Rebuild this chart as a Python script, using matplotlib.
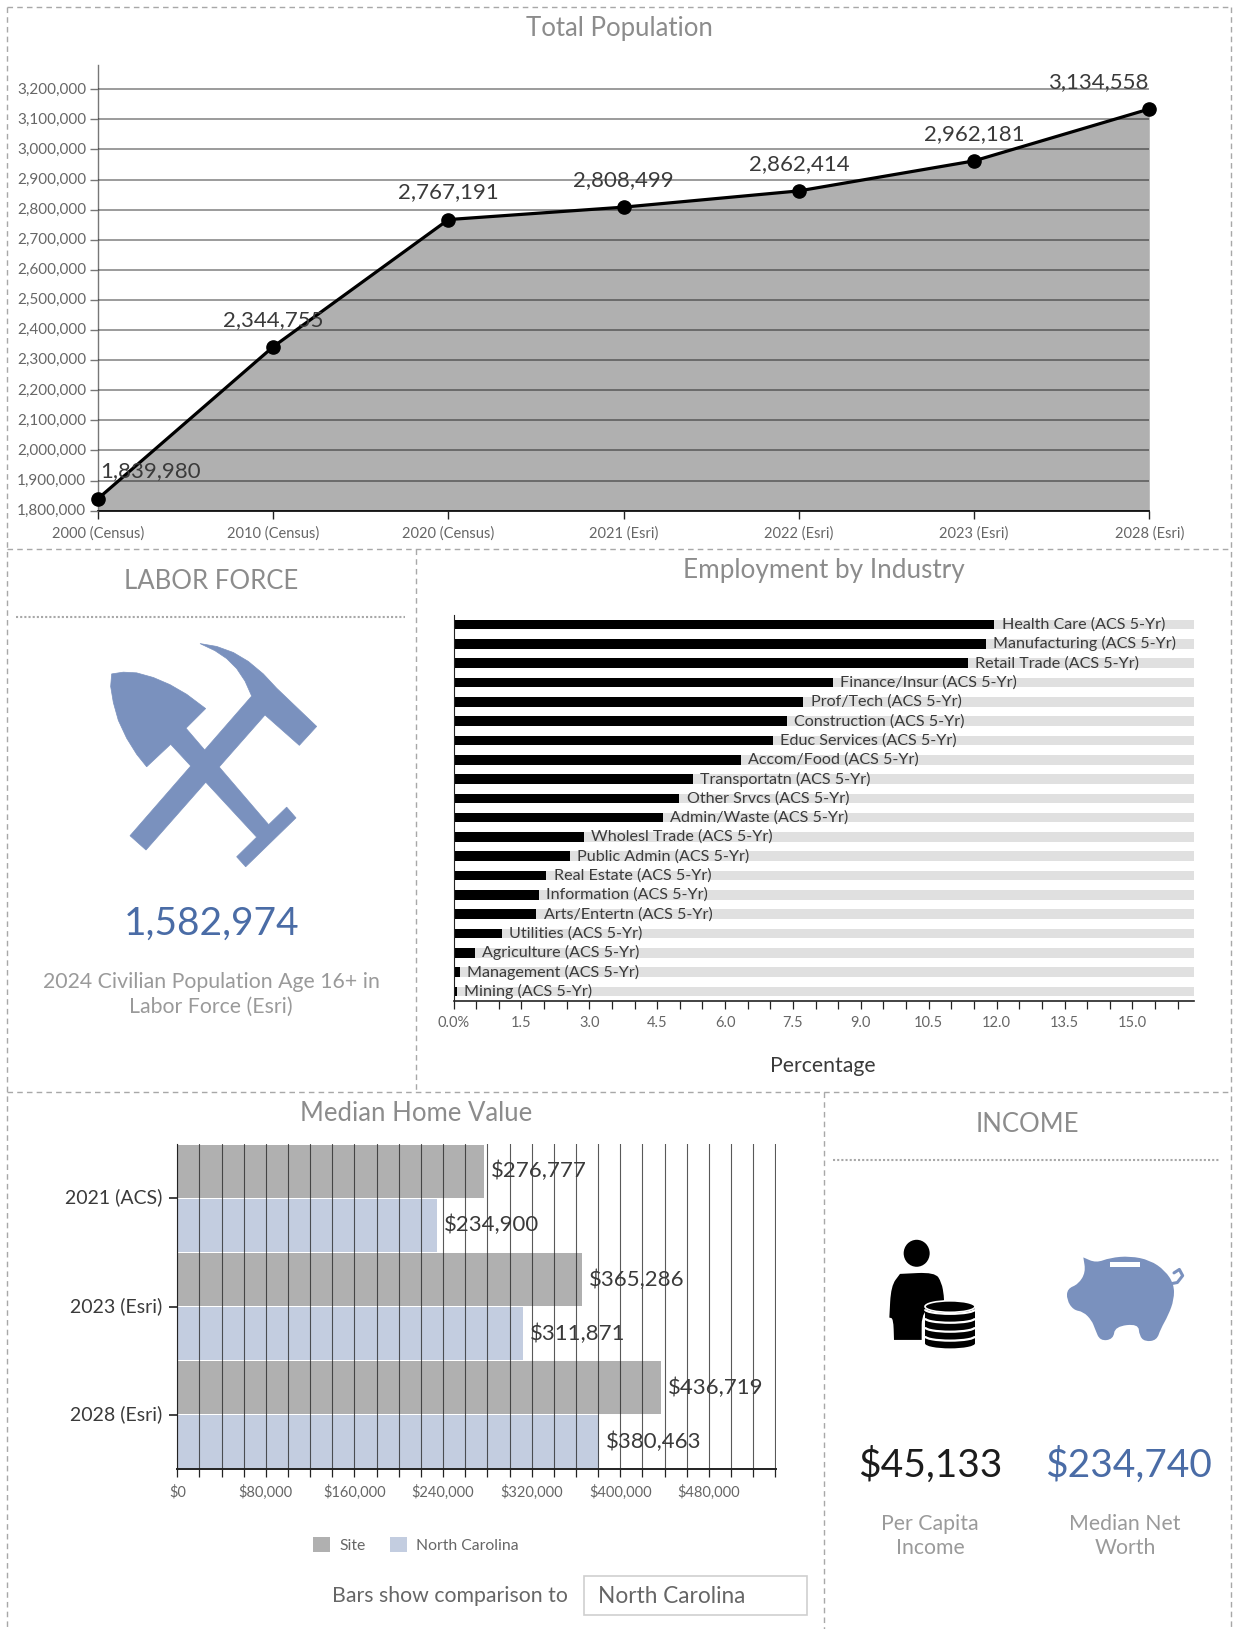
import matplotlib
matplotlib.use("Agg")
import matplotlib.pyplot as plt
import numpy as np
from matplotlib.patches import Arc, Ellipse, PathPatch, Polygon, Rectangle
from matplotlib.path import Path
from matplotlib.ticker import FuncFormatter, MultipleLocator
from matplotlib.transforms import ScaledTranslation

# =============================
# Data
# =============================
POP_YEARS = ["2000 (Census)", "2010 (Census)", "2020 (Census)", "2021 (Esri)",
             "2022 (Esri)", "2023 (Esri)", "2028 (Esri)"]
POP_VALUES = [1839980, 2344755, 2767191, 2808499, 2862414, 2962181, 3134558]

INDUSTRIES = ["Health Care", "Manufacturing", "Retail Trade", "Finance/Insur", "Prof/Tech",
              "Construction", "Educ Services", "Accom/Food", "Transportatn", "Other Srvcs",
              "Admin/Waste", "Wholesl Trade", "Public Admin", "Real Estate", "Information",
              "Arts/Entertn", "Utilities", "Agriculture", "Management", "Mining"]
INDUSTRY_PCT = [11.95, 11.77, 11.36, 8.39, 7.73, 7.36, 7.06, 6.35, 5.29, 4.99,
                4.62, 2.88, 2.57, 2.05, 1.89, 1.83, 1.07, 0.47, 0.14, 0.07]

HOME_YEARS = ["2021 (ACS)", "2023 (Esri)", "2028 (Esri)"]
HOME_SITE = [276777, 365286, 436719]
HOME_NC = [234900, 311871, 380463]

# =============================
# Style
# =============================
W, H = 1233, 1629
FONT = "Lato"
GRAY_TITLE = "#8c8c8c"
GRAY_TICK = "#666666"
GRAY_CAPTION = "#9a9a9a"
TEXT_DARK = "#3a3a3a"
BLUE_ICON = "#7a91be"
BLUE_TEXT = "#4a6ca6"
FILL_GRAY = "#b0b0b0"
NC_BLUE = "#c3cde0"

plt.rcParams["font.family"] = [FONT, "DejaVu Sans"]

fig = plt.figure(figsize=(W / 100, H / 100), dpi=100, facecolor="white")


def axes_px(left, top, right, bottom):
    return fig.add_axes([left / W, 1 - bottom / H, (right - left) / W, (bottom - top) / H])


# background layer, in pixel coordinates, for frames, headings and icons
bg = fig.add_axes([0, 0, 1, 1])
bg.set_xlim(0, W)
bg.set_ylim(H, 0)
bg.axis("off")

dash = dict(color="#a8a8a8", lw=1.0, dashes=(4, 3))
for xs, ys in [((7, 1231), (7, 7)), ((7, 7), (7, 1629)), ((1231, 1231), (7, 1629)),
               ((7, 1231), (549, 549)), ((7, 1231), (1092, 1092)),
               ((416, 416), (549, 1092)), ((824, 824), (1092, 1629))]:
    bg.plot(xs, ys, **dash)

dots = dict(color="#a8a8a8", lw=1.5, dashes=(1, 1))
bg.plot((16, 405), (617, 617), **dots)
bg.plot((833, 1220), (1160, 1160), **dots)


def label(x, y, s, size, color=GRAY_TITLE, ha="center"):
    bg.text(x, y + 1.5, s, fontsize=size, color=color, ha=ha, va="center")


label(619, 27, "Total Population", 18.5, GRAY_TITLE)
label(211, 580, "LABOR FORCE", 18.5, GRAY_TITLE)
label(824, 569, "Employment by Industry", 18.8, GRAY_TITLE)
label(416, 1112, "Median Home Value", 18.5, GRAY_TITLE)
label(1027, 1123, "INCOME", 18.5, GRAY_TITLE)

label(212, 922, "1,582,974", 28, BLUE_TEXT)
label(211, 980, "2024 Civilian Population Age 16+ in", 15.3, GRAY_CAPTION)
label(211, 1005, "Labor Force (Esri)", 15.3, GRAY_CAPTION)

label(930, 1464, "$45,133", 28, "#1c1c1c")
label(1129, 1464, "$234,740", 28, BLUE_TEXT)
label(930, 1522, "Per Capita", 15.3, GRAY_CAPTION)
label(930, 1547, "Income", 15.3, GRAY_CAPTION)
label(1125, 1522, "Median Net", 15.3, GRAY_CAPTION)
label(1125, 1547, "Worth", 15.3, GRAY_CAPTION)

label(450, 1595, "Bars show comparison to", 15.3, GRAY_TICK)
bg.add_patch(Rectangle((584, 1576), 223, 39, fc="white", ec="#cfcfcf", lw=1.2))
label(598, 1595, "North Carolina", 16.3, GRAY_TICK, ha="left")


# =============================
# Icons
# =============================
def smooth_patch(points, **kw):
    # quadratic curve through the midpoints, repeat a point to keep a corner
    pts = np.array(points, dtype=float)
    mids = (pts + np.roll(pts, -1, axis=0)) / 2
    verts = [mids[-1]]
    codes = [Path.MOVETO]
    for p, m in zip(pts, mids):
        verts += [p, m]
        codes += [Path.CURVE3, Path.CURVE3]
    return PathPatch(Path(verts, codes), **kw)


def z3(points):
    return [(x / 3, 540 + y / 2.8) for x, y in points]


def z6(points):
    return [(820 + x / 3, 1090 + y / 2.909) for x, y in points]


shovel = [(335, 375), (370, 370), (410, 372), (460, 385), (510, 405), (560, 432), (617, 472),
          (558, 527), (806, 797), (860, 748), (888, 778), (737, 915), (710, 887), (770, 832),
          (512, 572), (440, 635), (410, 600), (380, 555), (355, 505), (340, 455), (332, 410)]
pick = [(600, 290), (650, 298), (700, 315), (745, 340), (790, 375), (830, 415), (950, 522),
        (898, 575), (795, 490), (438, 868), (390, 828), (755, 437), (735, 395), (710, 360),
        (680, 332), (645, 310)]
bg.add_patch(Polygon(z3(shovel), fc=BLUE_ICON, ec=BLUE_ICON, lw=0.5))
bg.add_patch(Polygon(z3(pick), fc=BLUE_ICON, ec=BLUE_ICON, lw=0.5))

# person with coins
bg.add_patch(Ellipse(z6([(290, 475)])[0], 26, 27, fc="black"))
body = [(240, 535), (240, 535), (345, 530), (365, 560), (372, 600), (372, 620), (305, 640), (305, 727),
        (305, 727), (222, 727), (222, 727), (220, 665), (208, 662), (208, 662), (213, 570)]
bg.add_patch(smooth_patch(z6(body), fc="black", ec="none"))
(cx, c_top), (_, c_bot) = z6([(390, 630), (390, 740)])
bg.add_patch(Rectangle((cx - 25, c_top - 1), 50, c_bot - c_top, fc="black", ec="white", lw=0))
bg.add_patch(Ellipse((cx, c_top), 50, 11.5, fc="black", ec="white", lw=1.2))
bg.add_patch(Ellipse((cx, c_bot - 1), 50, 10, fc="black", ec="none"))
for cy in [638, 664, 690, 716]:
    _, py = z6([(390, cy)])[0]
    bg.add_patch(Arc((cx, py), 50, 9, theta1=0, theta2=180, color="white", lw=1.6))

# piggy bank
pig = [(790, 487), (790, 487), (828, 503), (870, 488), (930, 483), (990, 495), (1035, 525), (1062, 565),
       (1062, 610), (1045, 655), (1022, 695), (1010, 728), (975, 732), (958, 715), (955, 680),
       (885, 688), (880, 725), (840, 730), (825, 695), (815, 670), (790, 645), (760, 640),
       (740, 610), (742, 578), (775, 565), (797, 530)]
bg.add_patch(smooth_patch(z6(pig), fc=BLUE_ICON, ec="none"))
tail = z6([(1045, 565), (1072, 560), (1088, 540), (1078, 522), (1062, 532)])
bg.plot(*zip(*tail), color=BLUE_ICON, lw=2.2, solid_capstyle="round")
sx, sy = z6([(870, 500)])[0]
bg.add_patch(Rectangle((sx, sy), 30, 5, fc="white", ec="none"))

# =============================
# Total population
# =============================
ax = axes_px(98, 65, 1149.3, 510.7)
ax.patch.set_visible(False)
xpos = np.arange(len(POP_YEARS))
ax.fill_between(xpos, POP_VALUES, 1800000, color=FILL_GRAY, lw=0, zorder=1)
ax.plot(xpos, POP_VALUES, color="black", lw=2.3, marker="o", ms=9.5, clip_on=False, zorder=4)
ax.set_xlim(0, 6)
ax.set_ylim(1800000, 3280700)
ax.set_yticks(np.arange(1800000, 3200001, 100000))
ax.yaxis.set_major_formatter(FuncFormatter(lambda v, _: f"{int(v):,}"))
ax.set_xticks(xpos, POP_YEARS)
ax.grid(axis="y", color="black", alpha=0.5, lw=1.1, zorder=2)
ax.set_axisbelow(False)
for s in ("top", "right"):
    ax.spines[s].set_visible(False)
ax.spines["left"].set_color("#777777")
ax.spines["left"].set_linewidth(1.0)
ax.spines["bottom"].set_color("#222222")
ax.spines["bottom"].set_linewidth(1.4)
ax.tick_params(axis="y", length=5.5, width=1.0, color="#777777", labelcolor=GRAY_TICK, labelsize=11, pad=3)
ax.tick_params(axis="x", length=6, width=1.0, color="#222222", labelcolor=GRAY_TICK, labelsize=10.5, pad=5)
shift = ScaledTranslation(0, 1 / 72, fig.dpi_scale_trans)
for t in ax.get_yticklabels():
    t.set_transform(t.get_transform() + shift)
offsets = [38, 0, 0, 0, 0, 0, -37]
for x, v, dx in zip(xpos, POP_VALUES, offsets):
    ax.annotate(f"{v:,}", (x, v), xytext=(dx, 19.5), textcoords="offset points", ha="center",
                va="center", fontsize=16, color=TEXT_DARK, zorder=5, annotation_clip=False)

# =============================
# Employment by industry
# =============================
ax = axes_px(453.5, 615, 1193.5, 1001)
ax.patch.set_visible(False)
ypos = np.arange(len(INDUSTRIES))
XMAX = 16.35
ax.barh(ypos, [XMAX] * len(ypos), height=0.5, color="#e0e0e0", zorder=1)
ax.barh(ypos, INDUSTRY_PCT, height=0.5, color="black", zorder=2)
for y, v, name in zip(ypos, INDUSTRY_PCT, INDUSTRIES):
    ax.annotate(f"{name} (ACS 5-Yr)", (v, y), xytext=(5.2, 0), textcoords="offset points",
                va="center", fontsize=11.6, color=TEXT_DARK, zorder=3)
ax.set_xlim(0, XMAX)
ax.set_ylim(len(ypos) - 0.5, -0.5)
ax.set_yticks([])
ax.xaxis.set_major_locator(MultipleLocator(1.5))
ax.xaxis.set_minor_locator(MultipleLocator(0.5))
ax.xaxis.set_major_formatter(FuncFormatter(lambda v, _: "0.0%" if v == 0 else f"{v:.1f}"))
for s in ("top", "right"):
    ax.spines[s].set_visible(False)
ax.spines["left"].set_color("#222222")
ax.spines["bottom"].set_color("#222222")
ax.spines["bottom"].set_linewidth(1.2)
ax.tick_params(axis="x", which="both", length=6, width=0.9, color="#222222")
ax.tick_params(axis="x", labelsize=10.5, labelcolor=GRAY_TICK, pad=5)
label(823, 1064, "Percentage", 15.3, TEXT_DARK)

# =============================
# Median home value
# =============================
ax = axes_px(177.3, 1144, 775.6, 1469)
ax.patch.set_visible(False)
ypos = np.arange(len(HOME_YEARS))
ax.barh(ypos - 0.25, HOME_SITE, height=0.49, color=FILL_GRAY, label="Site", zorder=1)
ax.barh(ypos + 0.25, HOME_NC, height=0.49, color=NC_BLUE, label="North Carolina", zorder=1)
for y, site, nc in zip(ypos, HOME_SITE, HOME_NC):
    for off, v in ((-0.25, site), (0.25, nc)):
        ax.annotate(f"${v:,}", (v, y + off), xytext=(5, 0), textcoords="offset points",
                    va="center", fontsize=16, color=TEXT_DARK, zorder=4)
ax.set_xlim(0, 540300)
ax.set_ylim(2.5, -0.5)
ax.set_yticks(ypos, HOME_YEARS)
ax.xaxis.set_major_locator(MultipleLocator(80000))
ax.xaxis.set_minor_locator(MultipleLocator(20000))
ax.xaxis.set_major_formatter(FuncFormatter(lambda v, _: f"${int(v):,}"))
ax.grid(axis="x", which="both", color="#222222", alpha=0.75, lw=0.8, zorder=2)
ax.set_axisbelow(False)
for s in ("top", "right"):
    ax.spines[s].set_visible(False)
ax.spines["left"].set_color("#222222")
ax.spines["bottom"].set_color("#222222")
ax.spines["bottom"].set_linewidth(1.4)
ax.tick_params(axis="x", which="both", length=5.5, width=0.9, color="#222222")
ax.tick_params(axis="x", labelsize=10.5, labelcolor=GRAY_TICK, pad=6)
ax.tick_params(axis="y", length=5.5, width=1.2, color="#222222", labelsize=14, labelcolor=TEXT_DARK, pad=5)
shift = ScaledTranslation(0, 1.5 / 72, fig.dpi_scale_trans)
for t in ax.get_yticklabels():
    t.set_transform(t.get_transform() + shift)
ax.legend(loc="center", bbox_to_anchor=(416 / W, 1 - 1545 / H), bbox_transform=fig.transFigure, ncol=2,
          frameon=False, fontsize=11.3, labelcolor=GRAY_TICK, handlelength=1.1, handleheight=1.1,
          handletextpad=0.6, columnspacing=1.5)

fig.savefig("out.png", dpi=100)
plt.close(fig)
